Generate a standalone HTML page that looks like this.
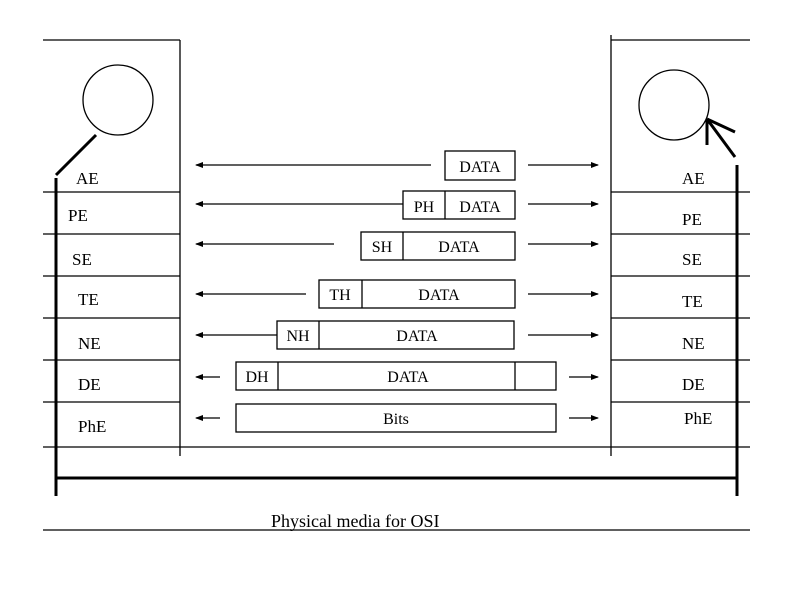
<!DOCTYPE html>
<html><head><meta charset="utf-8"><style>
html,body{margin:0;padding:0;background:#fff;}
svg{display:block;}
text{font-family:"Liberation Serif",serif;fill:#000;}
</style></head><body>
<svg width="800" height="600" viewBox="0 0 800 600" xmlns="http://www.w3.org/2000/svg">
<defs>
<marker id="a" markerWidth="8" markerHeight="6" refX="7" refY="3" orient="auto" markerUnits="userSpaceOnUse"><path d="M0,0 L8,3 L0,6 z" fill="#000"/></marker>
</defs>
<g stroke="#000" stroke-width="1.3" fill="none">
<!-- left box -->
<line x1="43" y1="40" x2="180" y2="40"/>
<line x1="180" y1="40" x2="180" y2="456"/>
<!-- right box -->
<line x1="611" y1="40" x2="750" y2="40"/>
<line x1="611" y1="35" x2="611" y2="456"/>
<!-- layer lines -->
<g>
<line x1="43" y1="192" x2="180" y2="192"/><line x1="611" y1="192" x2="750" y2="192"/>
<line x1="43" y1="234" x2="180" y2="234"/><line x1="611" y1="234" x2="750" y2="234"/>
<line x1="43" y1="276" x2="180" y2="276"/><line x1="611" y1="276" x2="750" y2="276"/>
<line x1="43" y1="318" x2="180" y2="318"/><line x1="611" y1="318" x2="750" y2="318"/>
<line x1="43" y1="360" x2="180" y2="360"/><line x1="611" y1="360" x2="750" y2="360"/>
<line x1="43" y1="402" x2="180" y2="402"/><line x1="611" y1="402" x2="750" y2="402"/>
<line x1="43" y1="447" x2="750" y2="447"/>
</g>
<line x1="43" y1="530" x2="750" y2="530"/>
<circle cx="118" cy="100" r="35"/>
<circle cx="674" cy="105" r="35"/>
</g>
<g stroke="#000" stroke-width="3" fill="none">
<line x1="56" y1="178" x2="56" y2="496"/>
<line x1="737" y1="165" x2="737" y2="496"/>
<line x1="56" y1="478" x2="737" y2="478"/>
<line x1="96" y1="135" x2="56" y2="175"/>
<line x1="735" y1="157" x2="707" y2="119"/>
<line x1="707" y1="119" x2="707" y2="145"/>
<line x1="707" y1="119" x2="735" y2="132"/>
</g>
<!-- arrows -->
<g stroke="#000" stroke-width="1.3" marker-end="url(#a)">
<line x1="431" y1="165" x2="196" y2="165"/><line x1="528" y1="165" x2="598" y2="165"/>
<line x1="403" y1="204" x2="196" y2="204"/><line x1="528" y1="204" x2="598" y2="204"/>
<line x1="334" y1="244" x2="196" y2="244"/><line x1="528" y1="244" x2="598" y2="244"/>
<line x1="306" y1="294" x2="196" y2="294"/><line x1="528" y1="294" x2="598" y2="294"/>
<line x1="277" y1="335" x2="196" y2="335"/><line x1="528" y1="335" x2="598" y2="335"/>
<line x1="220" y1="377" x2="196" y2="377"/><line x1="569" y1="377" x2="598" y2="377"/>
<line x1="220" y1="418" x2="196" y2="418"/><line x1="569" y1="418" x2="598" y2="418"/>
</g>
<!-- packets -->
<g stroke="#000" stroke-width="1.3" fill="#fff">
<rect x="445" y="151" width="70" height="29"/>
<rect x="403" y="191" width="112" height="28"/><line x1="445" y1="191" x2="445" y2="219"/>
<rect x="361" y="232" width="154" height="28"/><line x1="403" y1="232" x2="403" y2="260"/>
<rect x="319" y="280" width="196" height="28"/><line x1="362" y1="280" x2="362" y2="308"/>
<rect x="277" y="321" width="237" height="28"/><line x1="319" y1="321" x2="319" y2="349"/>
<rect x="236" y="362" width="320" height="28"/><line x1="278" y1="362" x2="278" y2="390"/><line x1="515" y1="362" x2="515" y2="390"/>
<rect x="236" y="404" width="320" height="28"/>
</g>
<g font-size="16" text-anchor="middle">
<text x="480" y="172">DATA</text>
<text x="424" y="212">PH</text><text x="480" y="212">DATA</text>
<text x="382" y="252">SH</text><text x="459" y="252">DATA</text>
<text x="340" y="300">TH</text><text x="439" y="300">DATA</text>
<text x="298" y="341">NH</text><text x="417" y="341">DATA</text>
<text x="257" y="382">DH</text><text x="408" y="382">DATA</text>
<text x="396" y="424">Bits</text>
</g>
<g font-size="17">
<text x="76" y="184">AE</text><text x="682" y="184">AE</text>
<text x="68" y="221">PE</text><text x="682" y="225">PE</text>
<text x="72" y="265">SE</text><text x="682" y="265">SE</text>
<text x="78" y="305">TE</text><text x="682" y="307">TE</text>
<text x="78" y="349">NE</text><text x="682" y="349">NE</text>
<text x="78" y="390">DE</text><text x="682" y="390">DE</text>
<text x="78" y="432">PhE</text><text x="684" y="424">PhE</text>
</g>
<text x="271" y="527" font-size="18">Physical media for OSI</text>
</svg>
</body></html>
